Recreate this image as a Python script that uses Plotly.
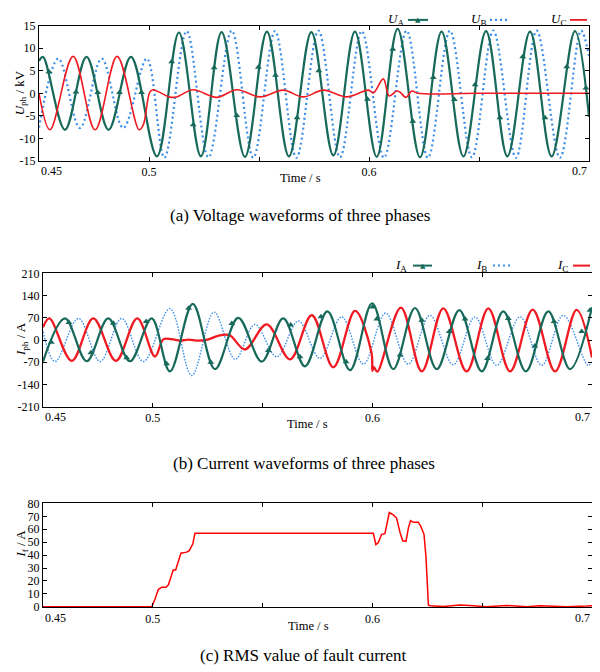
import plotly.graph_objects as go

# ---------------- (a) phase voltages (kV) : extrema ----------------
ua_t = [0.45, 0.4518, 0.4618, 0.4716, 0.4816, 0.4918, 0.5036, 0.5136, 0.5236, 0.5330, 0.5436,
        0.5536, 0.5636, 0.5738, 0.5838, 0.5936, 0.6035, 0.6130, 0.6232, 0.6330, 0.6429, 0.6532,
        0.6629, 0.6732, 0.6830, 0.6936, 0.7]
ua_v = [7.2, 8.1, -8.1, 8.1, -8.1, 8.1, -14.0, 13.5, -14.0, 13.6, -14.1, 13.7, -14.0, 13.6, -13.8,
        13.7, -14.1, 14.3, -14.2, 13.7, -14.0, 13.8, -14.0, 13.7, -14.0, 13.8, -5.2]
ua_mk_t = [0.4545, 0.4668, 0.4767, 0.4866, 0.4966, 0.5103, 0.5201, 0.5296, 0.5399, 0.5497, 0.5575,
           0.5673, 0.5772, 0.5993, 0.6108, 0.6199, 0.6292, 0.6388, 0.6482, 0.6595, 0.6699, 0.6800,
           0.6899, 0.6986]
ua_mk_v = [4.8, 0.3, 0.2, 0.2, 0.2, 7.0, -7.0, 5.7, -4.9, 5.8, 4.0, -5.4, 5.0, -1.3, 9.8, -6.2, 3.5,
           -1.4, 1.9, -5.4, 8.1, -5.4, 5.9, 1.2]

ub_t = [0.45, 0.4588, 0.4686, 0.4785, 0.4883, 0.4990, 0.5070, 0.5171, 0.5270, 0.5376, 0.5474,
        0.5573, 0.5670, 0.5770, 0.5868, 0.5967, 0.6068, 0.6171, 0.6268, 0.6368, 0.6468, 0.6565,
        0.6668, 0.6762, 0.6868, 0.6964, 0.7]
ub_v = [-7.6, 7.7, -7.7, 7.7, -7.7, 7.7, -14.3, 13.8, -14.2, 13.9, -14.3, 13.8, -14.3, 13.9, -14.2,
        13.8, -14.3, 13.9, -14.3, 13.9, -14.2, 13.9, -14.3, 13.9, -14.3, 13.9, 8.3]

uc_t = [0.45, 0.4550, 0.4655, 0.4755, 0.4855, 0.4955, 0.4974, 0.5003, 0.5017, 0.5095, 0.5126,
        0.5201, 0.5308, 0.5399, 0.5505, 0.5610, 0.5701, 0.5792, 0.5899, 0.5997, 0.6020, 0.6065,
        0.6092, 0.6126, 0.6140, 0.6168, 0.6195, 0.6223, 0.6500, 0.7]
uc_v = [0.0, -8.1, 8.2, -8.1, 8.2, -8.1, -7.0, 0.2, 0.8, -0.85, -0.8, 0.8, -0.9, 0.8, -0.8, 0.7,
        -0.8, 0.7, -0.8, 0.7, 0.1, 3.2, -0.6, 0.5, 0.3, -0.9, 0.5, 0.0, 0.0, 0.0]

# ---------------- (b) phase currents (A) ----------------
ia_t = [0.45, 0.4600, 0.4699, 0.4797, 0.4896, 0.4995, 0.5078, 0.5182, 0.5283, 0.5389, 0.5496,
        0.5594, 0.5693, 0.5795, 0.5898, 0.5999, 0.6095, 0.6194, 0.6293, 0.6396, 0.6498, 0.6596,
        0.6699, 0.6801, 0.6900, 0.7]
ia_v = [-68, 68, -67, 68, -67, 68, -99, 114, -92, 70, -68, 68, -83, 90, -95, 116, -92, 101, -92,
        94, -99, 90, -99, 90, -92, 103]
ia_mk_t = [0.4538, 0.4618, 0.4718, 0.4820, 0.4881, 0.4970, 0.5063, 0.5163, 0.5264, 0.5360, 0.5526,
           0.5628, 0.5670, 0.5766, 0.5880, 0.6001, 0.6020, 0.6126, 0.6225, 0.6350, 0.6422, 0.6524,
           0.6619, 0.6740, 0.6827, 0.6953, 0.6991]
ia_mk_v = [-7, 55, -40, 53, -56, 58, -75, 100, -70, 52, -33, 47, -53, 73, -69, 104, 66, -47, 62,
           27, 66, -58, 68, -19, 58, 27, 94]

ib_t = [0.45, 0.4555, 0.4661, 0.4760, 0.4858, 0.4957, 0.5078, 0.5177, 0.5279, 0.5375, 0.5465,
        0.5564, 0.5663, 0.5761, 0.5860, 0.5959, 0.6060, 0.6163, 0.6262, 0.6368, 0.6467, 0.6566,
        0.6672, 0.6771, 0.6869, 0.6982, 0.7]
ib_v = [26, -68, 68, -68, 68, -68, 99, -112, 88, -61, 49, -53, 60, -58, 73, -76, 85, -76, 78, -78,
        73, -80, 73, -80, 78, -80, -70]

ic_t = [0.45, 0.4529, 0.4631, 0.4729, 0.4832, 0.4929, 0.5010, 0.5048, 0.5085, 0.5124, 0.5165,
        0.5200, 0.5250, 0.5300, 0.5350, 0.5420, 0.5519, 0.5625, 0.5724, 0.5822, 0.5921, 0.5996,
        0.6000, 0.6006, 0.6022, 0.6130, 0.6225, 0.6323, 0.6429, 0.6528, 0.6627, 0.6730, 0.6832,
        0.6930, 0.7]
ic_v = [40, 68, -66, 68, -66, 68, -52, 2, 3, -2, 1, -2, 1, 14, 15, -30, 49, -61, 78, -86, 92, -40,
        -97, -85, -100, 102, -99, 100, -99, 100, -99, 96, -99, 95, -55]

# ---------------- (c) RMS of fault current (A) ----------------
rms_t = [0.45, 0.4995, 0.5010, 0.5025, 0.5040, 0.5060, 0.5071, 0.5086, 0.5093, 0.5104, 0.5116,
         0.5128, 0.5154, 0.5166, 0.5182, 0.5192, 0.6004, 0.6016, 0.6027, 0.6042, 0.6057, 0.6068,
         0.6077, 0.6095, 0.6110, 0.6126, 0.6138, 0.6153, 0.6164, 0.6174, 0.6186, 0.6209, 0.6220,
         0.6235, 0.6244, 0.6255, 0.6262, 0.6323, 0.6399, 0.6460, 0.6520, 0.6612, 0.6703, 0.6763,
         0.6885, 0.6976, 0.7]
rms_v = [0, 0, 5.8, 13.3, 15.1, 15.1, 17, 24.7, 28.4, 28.4, 36, 41.5, 42.3, 43.5, 48.6, 56.9, 56.9,
         48.1, 49.8, 56.1, 56.6, 66.2, 73, 71.2, 68.7, 57.4, 51.1, 50.6, 61.1, 66.7, 65.4, 65.4,
         62.4, 56.1, 38.5, 1.3, 0.8, 0.2, 1.3, 0.8, 0, 1, 0, 0.8, 0, 0.5, 0.8]

x_ticks = [0.5, 0.6]
x_minor_ticks = [0.55, 0.65]
ua_ticks = [-15, -10, -5, 0, 5, 10, 15]
ia_ticks = [-210, -140, -70, 0, 70, 140, 210]
rms_ticks = [0, 10, 20, 30, 40, 50, 60, 70, 80]

GREEN = "#17695a"
BLUE = "#3a8dea"
RED = "#f01a22"
FONT = "Liberation Serif"
OFF = 8            # page body margin of the browser
W, H = 600 - OFF, 672 - OFF

fig = go.Figure()

def spl(t, v, color, width, dash, xa, ya, smooth=1.0):
    fig.add_trace(go.Scatter(x=t, y=v, mode="lines", xaxis=xa, yaxis=ya, showlegend=False,
                             line=dict(color=color, width=width, dash=dash, shape="spline",
                                       smoothing=smooth), hoverinfo="skip"))

# (a)
spl(ub_t, ub_v, BLUE, 2.2, "2px,3px", "x", "y")
spl(ua_t, ua_v, GREEN, 2.2, "solid", "x", "y")
fig.add_trace(go.Scatter(x=ua_mk_t, y=ua_mk_v, mode="markers", xaxis="x", yaxis="y", showlegend=False,
                         marker=dict(symbol="triangle-up", size=6, color=GREEN), hoverinfo="skip"))
spl(uc_t, uc_v, RED, 1.6, "solid", "x", "y")
# (b)
spl(ib_t, ib_v, BLUE, 1.4, "1.5px,1.5px", "x2", "y2")
spl(ic_t, ic_v, RED, 2.3, "solid", "x2", "y2")
spl(ia_t, ia_v, GREEN, 2.2, "solid", "x2", "y2")
fig.add_trace(go.Scatter(x=ia_mk_t, y=ia_mk_v, mode="markers", xaxis="x2", yaxis="y2", showlegend=False,
                         marker=dict(symbol="triangle-up", size=6, color=GREEN), hoverinfo="skip"))
# (c)
fig.add_trace(go.Scatter(x=rms_t, y=rms_v, mode="lines", xaxis="x3", yaxis="y3", showlegend=False,
                         line=dict(color="#ff0000", width=1.5), hoverinfo="skip"))

def px(X):
    return (X - OFF) / W

def py(Y):
    return 1 - (Y - OFF) / H

axcommon = dict(showline=True, linecolor="black", linewidth=1, mirror="ticks", ticks="inside",
                ticklen=4, tickcolor="black", showgrid=False, zeroline=False,
                tickfont=dict(family=FONT, size=12, color="black"))

lay = dict(width=W, height=H, margin=dict(l=0, r=0, t=0, b=0), paper_bgcolor="white",
           plot_bgcolor="white", showlegend=False, font=dict(family=FONT, color="black"))
panels = [
    ("xaxis", "yaxis", "y", "x", (39, 589), (19, 157), [-15, 15], ua_ticks),
    ("xaxis2", "yaxis2", "y2", "x2", (43, 592), (272, 408), [-210, 210], ia_ticks),
    ("xaxis3", "yaxis3", "y3", "x3", (43, 592), (507, 613), [-0.4, 80], rms_ticks),
]
annotations = []
for xk, yk, yname, xname, (xl, xr), (yt, yb), yr, yt_vals in panels:
    lay[xk] = dict(axcommon, domain=[px(xl), px(xr)], range=[0.45, 0.7], anchor=yname,
                   tickvals=x_ticks, ticktext=[str(v) for v in x_ticks],
                   minor=dict(tickvals=x_minor_ticks, ticks="inside", ticklen=4, tickcolor="black",
                              showgrid=False))
    lay[yk] = dict(axcommon, domain=[py(yb), py(yt)], range=yr, anchor=xname, tickvals=yt_vals,
                   ticktext=[str(v) for v in yt_vals])
    annotations.append(dict(text="0.45", xref=xname, yref="paper", x=0.45, y=py(yb + 1.5),
                            xanchor="left", yanchor="top", showarrow=False,
                            font=dict(family=FONT, size=12)))
    annotations.append(dict(text="0.7", xref=xname, yref="paper", x=0.7, y=py(yb + 1.5),
                            xanchor="right", yanchor="top", showarrow=False,
                            font=dict(family=FONT, size=12)))

def txt(s, X, Y, size=13, angle=0, color="black"):
    annotations.append(dict(text=s, xref="paper", yref="paper", x=px(X), y=py(Y), xanchor="center",
                            yanchor="middle", showarrow=False, textangle=angle,
                            font=dict(family=FONT, size=size, color=color)))

# axis titles
txt("<i>U</i><sub>ph</sub> / kV", 20, 88, 13, -90)
txt("<i>I</i><sub>ph</sub> / A", 21, 339, 13, -90)
txt("<i>I</i><sub>f</sub> / A", 22, 548, 13, -90)
txt("Time / s", 300, 175, 12.5)
txt("Time / s", 307, 426, 12.5)
txt("Time / s", 308, 632, 12.5)
# captions
txt("(a) Voltage waveforms of three phases", 300, 213, 17)
txt("(b) Current waveforms of three phases", 304, 466, 17)
txt("(c) RMS value of fault current", 303, 662, 17)

# legends
shapes = []
def leg(label, tx, lx0, lx1, Y, color, width, dash, tri=False):
    txt(label, tx, Y, 13)
    shapes.append(dict(type="line", xref="paper", yref="paper", x0=px(lx0), x1=px(lx1), y0=py(Y),
                       y1=py(Y), line=dict(color=color, width=width, dash=dash)))
    if tri:
        annotations.append(dict(text="▲", xref="paper", yref="paper", x=px((lx0 + lx1) / 2),
                                y=py(Y), xanchor="center", yanchor="middle", showarrow=False,
                                font=dict(family="DejaVu Sans", size=7, color=color)))

leg("<i>U</i><sub>A</sub>", 396, 408, 428, 13, GREEN, 2, "solid", True)
leg("<i>U</i><sub>B</sub>", 478, 490, 510, 13, BLUE, 2.2, "2px,3px")
leg("<i>U</i><sub>C</sub>", 558, 570, 587, 13, RED, 1.8, "solid")
leg("<i>I</i><sub>A</sub>", 401, 413, 432, 264, GREEN, 2, "solid", True)
leg("<i>I</i><sub>B</sub>", 481, 493, 513, 264, BLUE, 2, "2px,3px")
leg("<i>I</i><sub>C</sub>", 562, 573, 590, 264, RED, 2, "solid")

lay["annotations"] = annotations
lay["shapes"] = shapes
fig.update_layout(**lay)
fig.write_html("out.html")
